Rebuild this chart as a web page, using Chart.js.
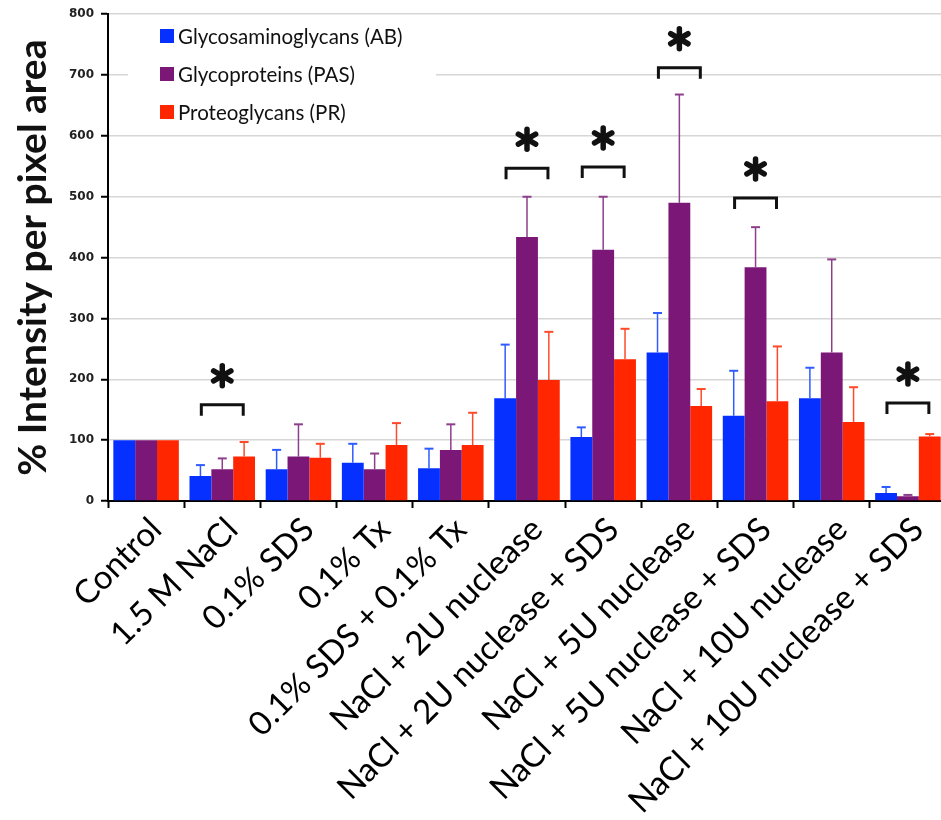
<!DOCTYPE html>
<html>
<head>
<meta charset="utf-8">
<script src="https://cdn.jsdelivr.net/npm/chart.js@4.4.1/dist/chart.umd.min.js"></script>
<style>
    html, body { margin: 0; padding: 0; background: #fff; overflow: hidden; }
</style>
</head>
<body>
<canvas id="chart" width="947" height="820"></canvas>
<script>
// ========== DATA ==========
const treatments = [
    "Control", "1.5 M NaCl", "0.1% SDS", "0.1% Tx", "0.1% SDS + 0.1% Tx",
    "NaCl + 2U nuclease", "NaCl + 2U nuclease + SDS", "NaCl + 5U nuclease",
    "NaCl + 5U nuclease + SDS", "NaCl + 10U nuclease", "NaCl + 10U nuclease + SDS"
];
const seriesNames = ["Glycosaminoglycans (AB)", "Glycoproteins (PAS)", "Proteoglycans (PR)"];

const gagMean = [100, 41, 52, 63, 54, 169, 105, 244, 140, 169, 13];
const gagSd   = [0, 18, 32, 31, 32, 88, 16, 65, 74, 50, 10];
const gpMean  = [100, 52, 73, 52, 84, 434, 413, 490, 384, 244, 8];
const gpSd    = [0, 18, 53, 26, 42, 66, 87, 178, 66, 153, 2];
const pgMean  = [100, 73, 71, 92, 92, 199, 233, 156, 164, 130, 106];
const pgSd    = [0, 24, 23, 36, 53, 79, 50, 28, 90, 57, 4];

// groups marked with * and the height of their bracket
const sigIndex = [1, 5, 6, 7, 8, 10];
const sigLevel = [158, 547, 549, 712, 498, 161];

const yTicks = [0, 100, 200, 300, 400, 500, 600, 700, 800];

const barColors = ["#0530ff", "#7b1776", "#ff2600"];
const errColors = ["#2f5cff", "#8d3f8b", "#ff4a2a"];

// ========== PLUGINS ==========
const errorBars = {
    id: "errorBars",
    afterDatasetsDraw(chart) {
        const ctx = chart.ctx;
        const y = chart.scales.y;
        chart.data.datasets.forEach((ds, i) => {
            const meta = chart.getDatasetMeta(i);
            meta.data.forEach((bar, j) => {
                const sd = ds.sd[j];
                if (!sd) return;
                const top = y.getPixelForValue(ds.data[j] + sd);
                ctx.save();
                ctx.strokeStyle = errColors[i];
                ctx.lineWidth = 1.5;
                ctx.beginPath();
                ctx.moveTo(bar.x, bar.y);
                ctx.lineTo(bar.x, top);
                ctx.stroke();
                ctx.lineWidth = 2;
                ctx.beginPath();
                ctx.moveTo(bar.x - 4.5, top);
                ctx.lineTo(bar.x + 4.5, top);
                ctx.stroke();
                ctx.restore();
            });
        });
    }
};

const significance = {
    id: "significance",
    afterDatasetsDraw(chart) {
        const ctx = chart.ctx;
        const xs = chart.scales.x, ys = chart.scales.y;
        const half = (xs.width / treatments.length) * 0.275;
        ctx.save();
        ctx.strokeStyle = "#111";
        sigIndex.forEach((idx, k) => {
            const cx = xs.getPixelForValue(idx);
            const yy = ys.getPixelForValue(sigLevel[k]);
            ctx.lineWidth = 3;
            ctx.lineCap = "butt";
            ctx.beginPath();
            ctx.moveTo(cx - half, yy + 11);
            ctx.lineTo(cx - half, yy);
            ctx.lineTo(cx + half, yy);
            ctx.lineTo(cx + half, yy + 11);
            ctx.stroke();
            // asterisk
            const sy = yy - 29, r = 10;
            ctx.lineWidth = 5.5;
            ctx.lineCap = "round";
            [90, 30, -30].forEach(a => {
                const rad = a * Math.PI / 180;
                ctx.beginPath();
                ctx.moveTo(cx - r * Math.cos(rad), sy - r * Math.sin(rad));
                ctx.lineTo(cx + r * Math.cos(rad), sy + r * Math.sin(rad));
                ctx.stroke();
            });
        });
        ctx.restore();
    }
};

const insideLegend = {
    id: "insideLegend",
    afterDraw(chart) {
        const ctx = chart.ctx;
        ctx.save();
        ctx.fillStyle = "#fff";
        ctx.fillRect(128, 20, 308, 106);
        ctx.font = "20.5px Lato";
        ctx.textBaseline = "middle";
        chart.data.datasets.forEach((ds, i) => {
            const yc = 36 + i * 38;
            ctx.fillStyle = ds.backgroundColor;
            ctx.fillRect(160, yc - 7, 14, 14);
            ctx.fillStyle = "#111";
            ctx.fillText(ds.label, 178, yc + 1);
        });
        ctx.restore();
    }
};

// ========== CHART ==========
const means = [gagMean, gpMean, pgMean];
const sds = [gagSd, gpSd, pgSd];

new Chart(document.getElementById("chart").getContext("2d"), {
    type: "bar",
    data: {
        labels: treatments,
        datasets: seriesNames.map((name, i) => ({
            label: name,
            data: means[i],
            sd: sds[i],
            backgroundColor: barColors[i],
            borderWidth: 0,
            categoryPercentage: 0.86,
            barPercentage: 1.0
        }))
    },
    options: {
        responsive: false,
        animation: false,
        devicePixelRatio: 1,
        layout: { padding: { top: 6, left: 0, right: 1, bottom: 0 } },
        plugins: {
            legend: { display: false },
            tooltip: { enabled: false }
        },
        scales: {
            x: {
                grid: { display: true, drawOnChartArea: false, offset: true, tickLength: 7, tickColor: "#000", tickWidth: 2 },
                border: { color: "#000", width: 2 },
                ticks: {
                    autoSkip: false, minRotation: 45, maxRotation: 45,
                    labelOffset: 10, padding: 2,
                    color: "#000", font: { family: "Lato", size: 33 }
                },
                afterFit(s) { s.height = 319; }
            },
            y: {
                min: 0, max: 800,
                afterBuildTicks(s) { s.ticks = yTicks.map(v => ({ value: v })); },
                grid: { color: "#d6d6d6", lineWidth: 1.5, tickColor: "#000", tickLength: 7, tickWidth: 2 },
                border: { color: "#000", width: 2 },
                ticks: { color: "#222", padding: 7, font: { family: "DejaVu Sans", size: 12, weight: "bold" } },
                title: {
                    display: true, text: "% Intensity per pixel area", color: "#111",
                    font: { family: "Lato", size: 39, weight: "bold" },
                    padding: { top: 10, bottom: 0 }
                },
                afterFit(s) { s.width = 108; }
            }
        }
    },
    plugins: [errorBars, significance, insideLegend]
});
</script>
</body>
</html>
